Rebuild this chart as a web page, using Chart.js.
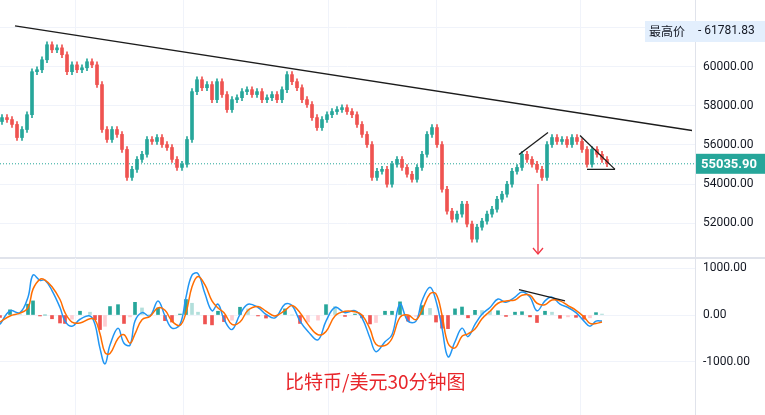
<!DOCTYPE html>
<html>
<head>
<meta charset="utf-8">
<script src="https://cdn.jsdelivr.net/npm/chart.js@4.4.1/dist/chart.umd.min.js"></script>
<style>
  html, body { margin: 0; padding: 0; background: #fff; }
  #wrap { position: relative; width: 765px; height: 415px; overflow: hidden; }
  canvas { position: absolute; left: 0; }
  #main { top: 0; }
  #macd { top: 258px; }
  #sep { position: absolute; left: 0; top: 257px; width: 765px; height: 2px; background: #e0e3eb; }
  #title { position: absolute; left: 285px; top: 367px; font: 19px "Noto Sans CJK SC", sans-serif; color: #e8262b; }
</style>
</head>
<body>
<div id="wrap">
  <canvas id="main" width="765" height="257"></canvas>
  <div id="sep"></div>
  <canvas id="macd" width="765" height="157"></canvas>
  <div id="title">比特币/美元30分钟图</div>
</div>
<script>
// ─── Datos ────────────────────────────────────────────────────
const closes = [
  57400,57300,57050,56380,56790,57550,59750,59850,60360,61130,
  60870,60970,60620,59750,60100,59850,59950,60260,60100,59090,
  56790,56280,56790,56540,55770,54340,54750,55260,55520,56280,
  56180,56380,56020,55870,55260,54850,55010,56280,58730,59340,
  58930,59090,58320,59240,58580,57810,58320,58420,58730,58830,
  58580,58730,58320,58420,58580,58320,58830,59600,59240,58930,
  58320,58070,57400,56890,57300,57550,57710,57810,57910,57710,
  57550,57050,56540,56020,54340,54650,54750,53990,55010,55260,
  54850,54500,54240,54850,55520,56540,56890,56020,53730,52610,
  52200,52460,52970,51950,51180,51790,52100,52460,52710,53220,
  53480,53990,54650,54850,55520,55260,55010,54750,54340,56020,
  56380,56180,56280,56020,56380,56180,55770,55010,55770,55520,
  55260,55036
];
const firstOpen = 57200;
const lastPrice = 55035.90;
const highPrice = 61781.83;
const priceTicks = [52000, 54000, 56000, 58000, 60000, 62000];
const gridX = [75, 183, 328, 436, 580];

const macdX = [0,10,20,28,33,40,45,52,60,65,72,80,90,95,100,105,110,118,124,130,
  135,142,150,158,165,172,180,186,192,198,205,212,218,224,232,240,248,258,266,275,
  285,292,300,308,318,326,335,345,355,362,370,376,385,392,400,408,416,422,430,436,
  442,448,455,462,468,475,482,490,498,506,515,522,530,537,545,552,560,568,576,584,
  590,596,602];
const macdLine = [-200,90,50,380,850,740,740,520,160,-130,
  -240,-90,-20,-200,-710,-1040,-640,-280,-600,-640,
  -130,50,-20,300,-20,-280,-200,380,850,880,
  450,90,230,-90,-310,15,230,160,15,-60,
  230,200,-130,-350,-530,-130,160,50,90,-60,
  -490,-780,-570,-420,230,-130,-130,300,590,300,
  -280,-890,-570,-280,-460,-200,15,160,340,270,
  380,490,380,90,300,380,230,160,50,-130,
  -240,-130,-130];
const signalLine = [-150,-20,40,150,550,760,740,600,330,50,
  -150,-170,-80,-100,-400,-800,-820,-500,-420,-600,
  -400,-100,-30,150,100,-130,-220,50,600,820,
  640,300,150,50,-200,-150,100,180,80,-20,
  100,200,50,-200,-420,-350,-20,80,70,0,
  -300,-620,-650,-500,-50,0,-100,100,450,450,
  0,-600,-700,-450,-400,-300,-80,80,250,300,
  320,420,420,250,220,320,300,200,100,-40,
  -180,-180,-150];
const macdTicks = [-1000, 0, 1000];

// dibujos (líneas de tendencia) en coordenadas de datos
const trendMain = [{ x: 15, y: 62094 }, { x: 692, y: 56740 }];
const trendRise = [{ x: 519, y: 55515 }, { x: 548, y: 56640 }];
const trendFall = [{ x: 580, y: 56480 }, { x: 615, y: 54750 }];
const trendBase = [{ x: 587, y: 54750 }, { x: 615, y: 54750 }];
const arrowLine = [{ x: 538, y: 54000 }, { x: 538, y: 50420 }];
const macdTrend = [{ x: 519, y: 540 }, { x: 565, y: 300 }];

// ─── Velas ────────────────────────────────────────────────────
const UP = "#26a69a", DOWN = "#ef5350";
const candleX = closes.map((c, i) => 2 + 5 * i);
const opens = closes.map((c, i) => i === 0 ? firstOpen : closes[i - 1]);
const candleColor = closes.map((c, i) => c >= opens[i] ? UP : DOWN);
const bodies = closes.map((c, i) => ({ x: candleX[i], y: [opens[i], c] }));
const wicks = closes.map((c, i) => ({ x: candleX[i], y: [Math.min(opens[i], c) - 150, Math.max(opens[i], c) + 150] }));

const fontTick = { family: "Roboto, sans-serif", size: 12 };

function lineDs(data, color, extra) {
  return Object.assign({ type: "line", data, borderColor: color, borderWidth: 1.3,
    pointRadius: 0, fill: false, tension: 0 }, extra || {});
}

// rejilla vertical (el eje x está oculto)
const vGrid = {
  id: "vGrid",
  beforeDatasetsDraw(chart) {
    const { ctx, chartArea, scales: { x } } = chart;
    ctx.save();
    ctx.strokeStyle = "#f0f3fa"; ctx.lineWidth = 1;
    gridX.forEach(v => {
      const px = Math.round(x.getPixelForValue(v)) + 0.5;
      ctx.beginPath(); ctx.moveTo(px, chartArea.top); ctx.lineTo(px, chartArea.bottom); ctx.stroke();
    });
    ctx.restore();
  }
};

const priceLabels = {
  id: "priceLabels",
  afterDraw(chart) {
    const { ctx, scales: { y }, chartArea } = chart;
    ctx.save();
    // flecha roja
    const ax = chart.scales.x.getPixelForValue(arrowLine[1].x);
    const ay = y.getPixelForValue(arrowLine[1].y);
    ctx.strokeStyle = "#f23645"; ctx.lineWidth = 1.3;
    ctx.beginPath(); ctx.moveTo(ax - 5, ay - 6); ctx.lineTo(ax, ay); ctx.lineTo(ax + 5, ay - 6); ctx.stroke();
    // último precio
    const py = y.getPixelForValue(lastPrice);
    ctx.fillStyle = "#26a69a";
    ctx.fillRect(chartArea.right + 1, py - 10, 70, 20);
    ctx.fillStyle = "#fff";
    ctx.font = "bold 13px Roboto, sans-serif";
    ctx.textBaseline = "middle";
    ctx.fillText(lastPrice.toFixed(2), chartArea.right + 6, py + 1);
    // máximo
    ctx.fillStyle = "#e3effd";
    ctx.fillRect(chartArea.right - 50, 21, 120, 21);
    ctx.fillStyle = "#131722";
    ctx.font = "12px 'Noto Sans CJK SC', sans-serif";
    ctx.fillText("最高价", chartArea.right - 46, 31);
    ctx.font = "12px Roboto, sans-serif";
    ctx.fillText("- " + highPrice.toFixed(2), chartArea.right + 3, 31);
    ctx.restore();
  }
};

function xScale() {
  return { type: "linear", display: false, min: 0, max: 695, offset: false };
}
function yScale(min, max, ticks) {
  return { position: "right", min, max,
    grid: { color: "#f0f3fa", drawTicks: false }, border: { color: "#e0e3eb" },
    afterBuildTicks: s => { s.ticks = ticks.map(v => ({ value: v })); },
    afterFit: s => { s.width = 70; s.paddingTop = 0; s.paddingBottom = 0; },
    ticks: { color: "#131722", font: fontTick, padding: 8, callback: v => v.toFixed(2) } };
}

new Chart(document.getElementById("main"), {
  type: "bar",
  data: {
    datasets: [
      { data: wicks, backgroundColor: candleColor, barThickness: 1, grouped: false, order: 3 },
      { data: bodies, backgroundColor: candleColor, barThickness: 3, minBarLength: 1, grouped: false, order: 2 },
      lineDs([{ x: 0, y: lastPrice }, { x: 695, y: lastPrice }], "#26a69a", { borderWidth: 1, borderDash: [1, 2], order: 4 }),
      lineDs(trendMain, "#1c1c1c", { order: 1 }),
      lineDs(trendRise, "#1c1c1c", { order: 1 }),
      lineDs(trendFall, "#1c1c1c", { order: 1 }),
      lineDs(trendBase, "#1c1c1c", { order: 1 }),
      lineDs(arrowLine, "#f23645", { order: 1 })
    ]
  },
  options: {
    responsive: false, animation: false,
    layout: { padding: 0 },
    plugins: { legend: { display: false }, tooltip: { enabled: false } },
    scales: { x: xScale(), y: yScale(50265, 63420, priceTicks) }
  },
  plugins: [vGrid, priceLabels]
});

// ─── MACD ─────────────────────────────────────────────────────
const hist = macdX.map((x, i) => ({ x, y: macdLine[i] - signalLine[i] }));
const histColor = hist.map((h, i) => {
  const prev = i ? hist[i - 1].y : 0;
  if (h.y >= 0) return h.y >= prev ? "#26a69a" : "#b2dfdb";
  return h.y <= prev ? "#ef5350" : "#ffcdd2";
});

new Chart(document.getElementById("macd"), {
  type: "bar",
  data: {
    datasets: [
      { data: hist, backgroundColor: histColor, barThickness: 3, grouped: false, order: 3 },
      lineDs(macdX.map((x, i) => ({ x, y: macdLine[i] })), "#2196f3", { borderWidth: 1.5, tension: 0.4, order: 2 }),
      lineDs(macdX.map((x, i) => ({ x, y: signalLine[i] })), "#ff6d00", { borderWidth: 1.5, tension: 0.4, order: 1 }),
      lineDs(macdTrend, "#1c1c1c", { order: 0 })
    ]
  },
  options: {
    responsive: false, animation: false,
    layout: { padding: 0 },
    plugins: { legend: { display: false }, tooltip: { enabled: false } },
    scales: { x: xScale(), y: yScale(-2128, 1213, macdTicks) }
  },
  plugins: [vGrid]
});
</script>
</body>
</html>
